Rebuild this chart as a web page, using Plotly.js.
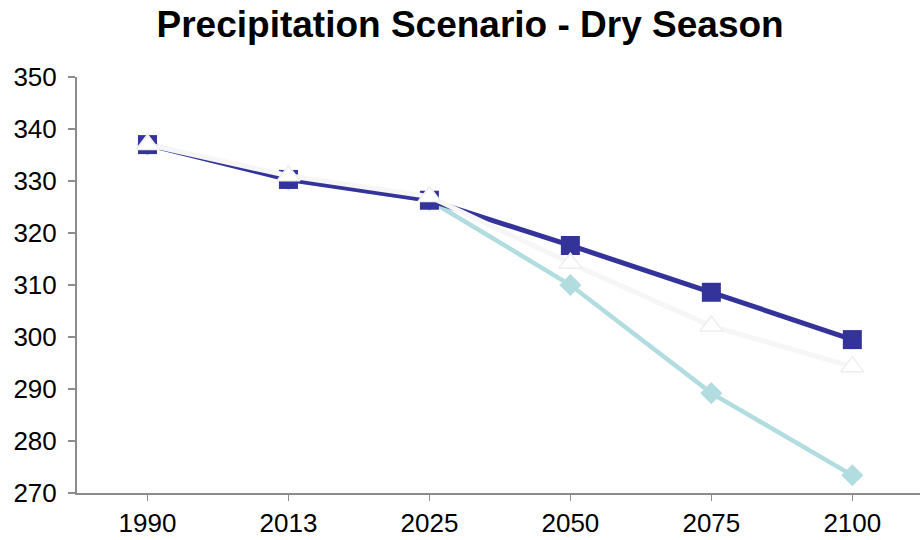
<!DOCTYPE html>
<html>
<head>
<meta charset="utf-8">
<script src="https://cdn.plot.ly/plotly-3.0.1.min.js"></script>
<style>
  html, body { margin: 0; padding: 0; background: #ffffff; }
  #chart { width: 920px; height: 540px; }
</style>
</head>
<body>
<div id="chart"></div>
<script>
// Projected dry-season precipitation under three scenarios
const years = ['1990', '2013', '2025', '2050', '2075', '2100'];
const scenarioLow = [337, 330.3, 326.3, 310.0, 289.2, 273.4];
const scenarioHigh = [337, 330.3, 326.3, 317.6, 308.6, 299.5];
const scenarioMid = [337, 331.0, 327.0, 314.2, 302.1, 294.3];
const yTicks = [270, 280, 290, 300, 310, 320, 330, 340, 350];

const FONT = 'Liberation Sans, Arial, sans-serif';

const traces = [
  {
    x: years, y: scenarioLow, type: 'scatter', mode: 'lines+markers',
    line: { color: '#B2DDE0', width: 4.5 },
    marker: { symbol: 'diamond', size: 17, color: '#B2DDE0' },
    hoverinfo: 'x+y'
  },
  {
    x: years, y: scenarioHigh, type: 'scatter', mode: 'lines+markers',
    line: { color: '#333399', width: 5 },
    marker: { symbol: 'square', size: 19, color: '#333399' },
    hoverinfo: 'x+y'
  },
  {
    x: years, y: scenarioMid, type: 'scatter', mode: 'lines+markers',
    line: { color: '#F6F6F6', width: 5 },
    marker: { symbol: 'triangle-up', size: 20, color: '#FFFFFF',
              line: { color: '#EEEEEE', width: 1.5 } },
    hoverinfo: 'x+y'
  }
];

const layout = {
  width: 920, height: 540,
  paper_bgcolor: '#FFFFFF', plot_bgcolor: '#FFFFFF',
  showlegend: false,
  margin: { l: 77, r: 0, t: 77, b: 47 },
  title: {
    text: 'Precipitation Scenario - Dry Season',
    font: { family: FONT, size: 37, color: '#000000', weight: 'bold' },
    x: 0.511, xanchor: 'center', y: 0.955, yanchor: 'middle'
  },
  font: { family: FONT, size: 26, color: '#000000' },
  xaxis: {
    type: 'category',
    range: [-0.5, 5.48],
    showgrid: false, zeroline: false,
    showline: true, linecolor: '#8C8C8C', linewidth: 2,
    ticks: 'outside', ticklen: 6, tickwidth: 1.5, tickcolor: '#8C8C8C',
    tickfont: { family: FONT, size: 26, color: '#000000' },
    fixedrange: true
  },
  yaxis: {
    range: [270, 350],
    tickvals: yTicks,
    showgrid: false, zeroline: false,
    showline: true, linecolor: '#8C8C8C', linewidth: 2,
    ticks: 'outside', ticklen: 7, tickwidth: 1.5, tickcolor: '#8C8C8C',
    tickfont: { family: FONT, size: 26, color: '#000000' },
    ticklabelstandoff: 6,
    fixedrange: true
  }
};

Plotly.newPlot('chart', traces, layout, { displayModeBar: false, staticPlot: true });
</script>
</body>
</html>
